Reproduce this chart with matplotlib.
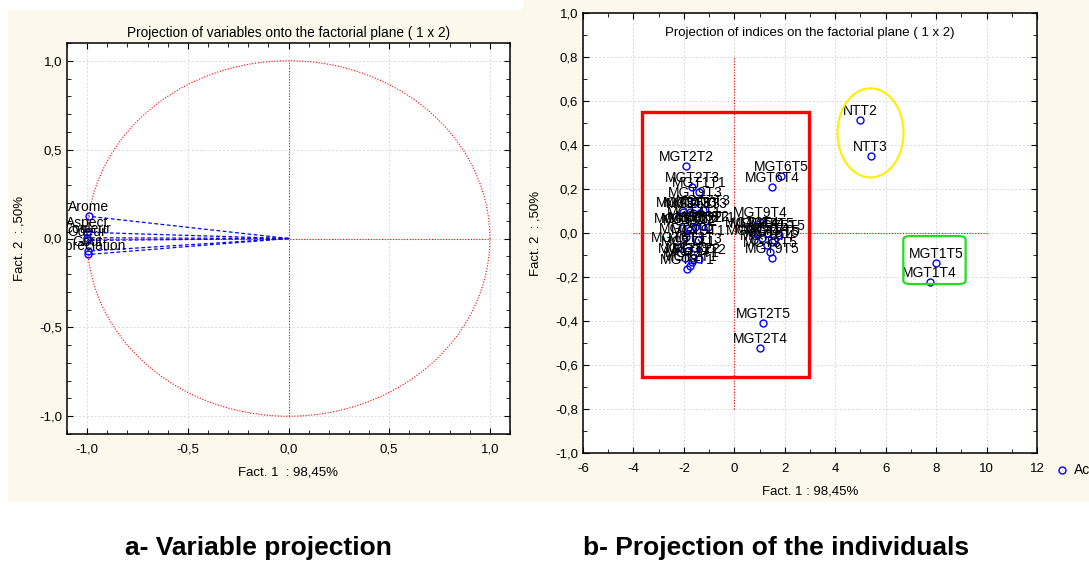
import matplotlib.pyplot as plt
import numpy as np
from matplotlib.patches import Rectangle, Ellipse, FancyBboxPatch
from matplotlib.lines import Line2D
from matplotlib.ticker import MultipleLocator, FuncFormatter

plt.rcParams['font.family'] = ['Liberation Sans', 'DejaVu Sans']

# variables (left panel)
var_names = ["Arome", "Aspect", "Couleur", "Odeur", "Gout", "Appreciation"]
var_f1 = [-0.992, -0.999, -1.0, -1.0, -0.997, -0.996]
var_f2 = [0.125, 0.035, 0.004, -0.011, -0.071, -0.090]

# individuals (right panel)
ind_names = ["MGT2T3", "MGT1T1", "MGT9T3", "MGT3T3", "MGT4T3", "MGT5T3", "MGT7T3",
             "MGT8T3", "MGT2T2", "MGT3T2", "MGT4T2", "MGT5T2", "MGT6T2", "MGT6T1",
             "MGT9T2", "MGT6T3", "MGT1T3", "MGT7T1", "MGT7T2", "MGT8T2", "MGT1T2",
             "MGT8T1", "MGT2T1", "MGT3T1", "MGT4T1", "MGT5T1", "MGT9T1",
             "MGT1T4", "MGT1T5", "MGT2T4", "MGT2T5", "MGT6T4", "MGT6T5", "MGT9T4",
             "MGT3T4", "MGT4T4", "MGT4T5", "MGT5T4", "MGT5T5", "MGT7T4", "MGT7T5",
             "MGT8T4", "MGT8T5", "MGT3T5", "MGT9T5", "NTT2", "NTT3"]
ind_f1 = [-1.68, -1.39, -1.55, -2.02, -1.75, -1.63, -1.23,
          -1.35, -1.90, -2.08, -1.83, -1.55, -1.28, -1.03,
          -1.75, -2.22, -1.55, -1.83, -1.94, -1.63, -1.39,
          -1.88, -1.75, -1.67, -1.60, -1.90, -1.45,
          7.74, 8.00, 1.03, 1.15, 1.50, 1.87, 1.03,
          0.70, 0.90, 1.30, 1.10, 1.76, 0.77, 1.56,
          1.30, 1.50, 1.43, 1.50, 5.00, 5.40]
ind_f2 = [0.210, 0.188, 0.142, 0.097, 0.097, 0.092, 0.105,
          0.092, 0.306, 0.023, 0.023, 0.027, 0.032, 0.027,
          0.014, -0.062, -0.068, -0.082, -0.114, -0.114, -0.118,
          -0.164, -0.150, -0.132, 0.050, -0.020, -0.030,
          -0.223, -0.136, -0.523, -0.410, 0.210, 0.260, 0.051,
          0.006, 0.000, 0.000, -0.024, -0.010, -0.032, -0.032,
          -0.055, -0.040, -0.085, -0.115, 0.514, 0.350]

W, H = 1089, 562
cream = '#fdf8ec'
fig = plt.figure(figsize=(W / 100, H / 100), dpi=100)
fig.patch.set_facecolor('white')


def fbox(x0, y0, x1, y1):
    # pixel box (top-left origin) -> figure fraction rect
    return [x0 / W, 1 - y1 / H, (x1 - x0) / W, (y1 - y0) / H]


for b in [fbox(8, 10, 523, 502), fbox(523, 0, W, 502)]:
    fig.patches.append(Rectangle((b[0], b[1]), b[2], b[3], transform=fig.transFigure,
                                 facecolor=cream, edgecolor='none', zorder=-10))

comma1 = FuncFormatter(lambda v, p: f"{v:.1f}".replace('.', ',').replace('-0,0', '0,0'))
grid_kw = dict(color='#d9d9d9', linestyle=(0, (2, 2)), linewidth=0.7)


def style(ax):
    for s in ax.spines.values():
        s.set_linewidth(1.1)
    ax.tick_params(which='both', direction='in', top=True, right=True, labelsize=9.5)
    ax.tick_params(which='major', length=4)
    ax.tick_params(which='minor', length=3)
    ax.tick_params(axis='x', pad=7)
    ax.grid(True, which='major', **grid_kw)
    ax.set_axisbelow(True)


# ---- left: variables
ax1 = fig.add_axes(fbox(67, 43, 510, 434))
ax1.set_xlim(-1.1, 1.1)
ax1.set_ylim(-1.1, 1.1)
ax1.xaxis.set_major_locator(MultipleLocator(0.5))
ax1.yaxis.set_major_locator(MultipleLocator(0.5))
ax1.xaxis.set_minor_locator(MultipleLocator(0.1))
ax1.yaxis.set_minor_locator(MultipleLocator(0.1))
ax1.xaxis.set_major_formatter(comma1)
ax1.yaxis.set_major_formatter(comma1)
style(ax1)

t = np.linspace(0, 2 * np.pi, 400)
ax1.plot(np.cos(t), np.sin(t), color='red', lw=0.8, linestyle=(0, (1, 1.5)))
ax1.plot([0, 0], [-1, 1], color='red', lw=0.8, linestyle=(0, (1, 1.5)))
ax1.plot([-1, 1], [0, 0], color='red', lw=0.8, linestyle=(0, (1, 1.5)))
for x, y in zip(var_f1, var_f2):
    ax1.plot([0, x], [0, y], color='blue', lw=0.9, linestyle=(0, (3, 2)))
ax1.plot(var_f1, var_f2, 'o', mfc='none', mec='blue', ms=5, mew=1)
for n, x, y in zip(var_names, var_f1, var_f2):
    ax1.annotate(n, (x, y), xytext=(0, 3.5), textcoords='offset points', ha='center',
                 va='baseline', fontsize=10, clip_on=True)

ax1.set_title("Projection of variables onto the factorial plane ( 1 x 2)", fontsize=9.8, pad=4)
ax1.set_xlabel("Fact. 1  : 98,45%", fontsize=9.5, labelpad=8)
ax1.set_ylabel("Fact. 2  : ,50%", fontsize=9.5, labelpad=10)

# ---- right: individuals
ax2 = fig.add_axes(fbox(583, 13, 1037, 453))
ax2.set_xlim(-6, 12)
ax2.set_ylim(-1, 1)
ax2.xaxis.set_major_locator(MultipleLocator(2))
ax2.xaxis.set_minor_locator(MultipleLocator(1))
ax2.yaxis.set_major_locator(MultipleLocator(0.2))
ax2.yaxis.set_minor_locator(MultipleLocator(0.1))
ax2.xaxis.set_major_formatter(FuncFormatter(lambda v, p: f"{v:.0f}"))
ax2.yaxis.set_major_formatter(comma1)
style(ax2)

ax2.plot([0, 0], [-0.8, 0.8], color='red', lw=0.8, linestyle=(0, (1, 1.5)))
ax2.plot([-4, 10], [0, 0], color='red', lw=0.8, linestyle=(0, (1, 1.5)))
ax2.plot(ind_f1, ind_f2, 'o', mfc='none', mec='blue', ms=5, mew=1, zorder=3)
for n, x, y in zip(ind_names, ind_f1, ind_f2):
    ax2.annotate(n, (x, y), xytext=(0, 3.5), textcoords='offset points', ha='center',
                 va='baseline', fontsize=10, clip_on=True)

ax2.add_patch(Rectangle((-3.65, -0.655), 6.6, 1.205, fill=False, edgecolor='red', lw=2.4, zorder=4))
ax2.add_patch(Ellipse((5.4, 0.455), 2.62, 0.405, fill=False, edgecolor='#ffee00', lw=1.5, zorder=4))
ax2.add_patch(FancyBboxPatch((6.7, -0.232), 2.47, 0.218, boxstyle='round,pad=0,rounding_size=0.3',
                             mutation_aspect=0.05, fill=False, edgecolor='#22dd22', lw=1.6, zorder=4))

ax2.text(0.5, 0.955, "Projection of indices on the factorial plane ( 1 x 2)", transform=ax2.transAxes,
         ha='center', va='center', fontsize=9.5)
ax2.set_xlabel("Fact. 1 : 98,45%", fontsize=9.5, labelpad=8)
ax2.set_ylabel("Fact. 2  : ,50%", fontsize=9.5, labelpad=10)

# legend stub cut by the figure edge
fig.add_artist(Line2D([1062 / W], [1 - 470 / H], marker='o', mfc='none', mec='blue', ms=5,
                      mew=1, transform=fig.transFigure))
fig.text(1074 / W, 1 - 470 / H, "Active", fontsize=10, va='center')

# captions
fig.text(258 / W, 1 - 548 / H, "a- Variable projection", fontsize=19, fontweight='bold',
         ha='center', va='center')
fig.text(776 / W, 1 - 548 / H, "b- Projection of the individuals", fontsize=19, fontweight='bold',
         ha='center', va='center')

fig.savefig("out.png", dpi=100)
